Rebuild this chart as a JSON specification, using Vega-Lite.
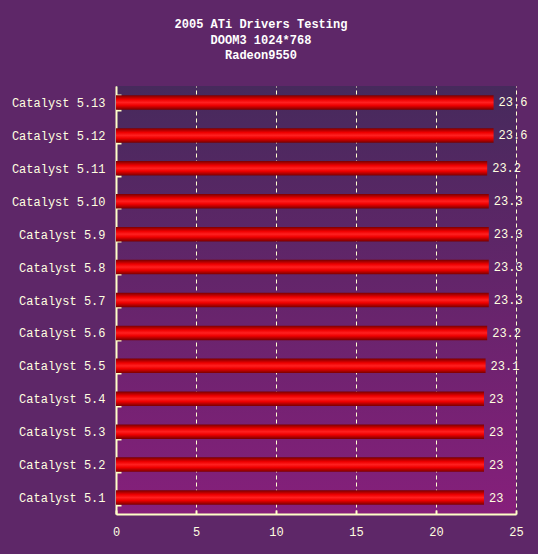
{
  "$schema": "https://vega.github.io/schema/vega-lite/v6.json",
  "width": 400,
  "height": 428,
  "autosize": {"type": "none"},
  "padding": {"left": 116, "top": 86, "right": 22, "bottom": 40},
  "background": "#5e2768",
  "config": {
    "view": {
      "stroke": null,
      "fill": {
        "gradient": "linear", "x1": 0, "y1": 0, "x2": 0, "y2": 1,
        "stops": [
          {"offset": 0, "color": "#462a5c"},
          {"offset": 1, "color": "#861f7b"}
        ]
      }
    }
  },
  "title": {
    "text": ["2005 ATi Drivers Testing", "DOOM3 1024*768", "Radeon9550"],
    "font": "Liberation Mono",
    "fontSize": 12,
    "fontWeight": "bold",
    "color": "#ffffff",
    "lineHeight": 15.5,
    "anchor": "middle",
    "dx": -55,
    "offset": 18
  },
  "data": {
    "values": [
      {"driver": "Catalyst 5.13", "fps": 23.6},
      {"driver": "Catalyst 5.12", "fps": 23.6},
      {"driver": "Catalyst 5.11", "fps": 23.2},
      {"driver": "Catalyst 5.10", "fps": 23.3},
      {"driver": "Catalyst 5.9", "fps": 23.3},
      {"driver": "Catalyst 5.8", "fps": 23.3},
      {"driver": "Catalyst 5.7", "fps": 23.3},
      {"driver": "Catalyst 5.6", "fps": 23.2},
      {"driver": "Catalyst 5.5", "fps": 23.1},
      {"driver": "Catalyst 5.4", "fps": 23},
      {"driver": "Catalyst 5.3", "fps": 23},
      {"driver": "Catalyst 5.2", "fps": 23},
      {"driver": "Catalyst 5.1", "fps": 23}
    ]
  },
  "encoding": {
    "y": {
      "field": "driver",
      "type": "nominal",
      "sort": null,
      "scale": {"paddingInner": 0.56, "paddingOuter": 0.28},
      "axis": {
        "title": null,
        "grid": false,
        "labelFont": "Liberation Mono",
        "labelFontSize": 12,
        "labelColor": "#ffffe0",
        "labelPadding": 16,
        "domainColor": "#ffffc8",
        "domainWidth": 2,
        "tickColor": "#ffffc8",
        "tickWidth": 2,
        "tickSize": -5,
        "tickBand": "extent"
      }
    },
    "x": {
      "field": "fps",
      "type": "quantitative",
      "scale": {"domain": [0, 25], "nice": false},
      "axis": {
        "title": null,
        "values": [0, 5, 10, 15, 20, 25],
        "grid": true,
        "gridColor": "#ffffd0",
        "gridDash": [4, 3],
        "gridWidth": 1,
        "domainColor": "#ffffc8",
        "domainWidth": 2,
        "tickColor": "#ffffc8",
        "tickWidth": 2,
        "tickSize": -4,
        "labelFlush": false,
        "labelFont": "Liberation Mono",
        "labelFontSize": 12,
        "labelColor": "#ffffe0",
        "labelPadding": 16
      }
    }
  },
  "layer": [
    {
      "mark": {
        "type": "bar",
        "color": {
          "gradient": "linear", "x1": 0, "y1": 0, "x2": 0, "y2": 1,
          "stops": [
            {"offset": 0, "color": "#7a0000"},
            {"offset": 0.3, "color": "#ee0000"},
            {"offset": 0.5, "color": "#ff2020"},
            {"offset": 0.7, "color": "#ee0000"},
            {"offset": 1, "color": "#780000"}
          ]
        }
      }
    },
    {
      "mark": {
        "type": "text",
        "align": "left",
        "baseline": "middle",
        "dx": 5,
        "font": "Liberation Mono",
        "fontSize": 12,
        "color": "#ffffe0"
      },
      "encoding": {"text": {"field": "fps", "type": "quantitative"}}
    }
  ]
}
